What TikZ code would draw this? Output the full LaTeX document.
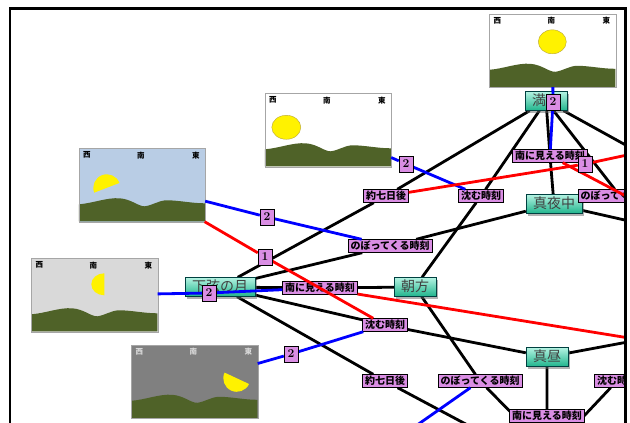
\documentclass[tikz,border=0pt]{standalone}
\usepackage{fontspec}
\newfontfamily\jpfont{Noto Sans CJK JP}
\usetikzlibrary{shadows,backgrounds}

\pgfdeclarelayer{front}
\pgfsetlayers{background,main,front}

\definecolor{hill}{HTML}{4F6228}
\definecolor{moonrim}{HTML}{B8A53A}
\definecolor{linkpink}{HTML}{DA8EE4}
\definecolor{dawnsky}{HTML}{B9CDE5}
\definecolor{greysky}{HTML}{D9D9D9}
\definecolor{nightsky}{HTML}{808080}
\definecolor{mintlight}{HTML}{B4F3E2}
\definecolor{mintdark}{HTML}{1FB48C}

\tikzset{
  concept/.style={draw=teal!50!black, top color=mintlight, bottom color=mintdark,
    text=black!75, font=\jpfont\fontsize{14}{14}\selectfont,
    text height=11pt, text depth=3pt, inner xsep=7pt, inner ysep=2.5pt,
    drop shadow={shadow xshift=2pt, shadow yshift=-2pt, fill=black!60}},
  phrase/.style={draw=black, fill=linkpink, font=\jpfont\bfseries\fontsize{10}{10}\selectfont,
    text height=8pt, text depth=2pt, inner xsep=2.5pt, inner ysep=1.5pt},
  num/.style={draw=black, fill=linkpink, font=\bfseries\fontsize{12}{12}\selectfont,
    inner sep=0pt, minimum width=14pt, minimum height=16pt},
  scene/.style={minimum width=126pt, minimum height=73pt, inner sep=0pt},
  compass/.style={font=\jpfont\bfseries\fontsize{7.5}{7.5}\selectfont, inner sep=0pt},
  conn/.style={line width=2.8pt},
  bluelink/.style={conn, blue},
  redlink/.style={conn, red},
}

% sky, hills, west/south/east marks and the moon
\newcommand{\moonscene}[5]{%
  \node[scene, fill=#3] (#1) at (#2) {};
  \begin{scope}[shift={(#1.north west)}]
    \fill[hill] (0,56) .. controls (14,55) and (28,49) .. (41,50)
      .. controls (53,51) and (59,58) .. (66,58)
      .. controls (74,57) and (80,52) .. (88,52)
      .. controls (100,52) and (113,55) .. (126,55) -- (126,73) -- (0,73) -- cycle;
    \node[compass, text=#4] (#1-w) at (8,7) {西};
    \node[compass, text=#4] (#1-s) at (62,7) {南};
    \node[compass, text=#4] (#1-e) at (117,7) {東};
    #5
  \end{scope}
  \draw[black!35] (#1.north west) rectangle (#1.south east);
}

\begin{document}
\begin{tikzpicture}[x=1pt, y=-1pt]
\useasboundingbox (0,0) rectangle (630,423);
\begin{scope}
\clip (10,8) rectangle (625,430);

\moonscene{full}{552.5,50.5}{white}{black}{\filldraw[fill=yellow, draw=moonrim, thin] (63,28) ellipse [x radius=14, y radius=12];}
\moonscene{west}{328,130}{white}{black}{\filldraw[fill=yellow, draw=moonrim, thin] (21.5,34) ellipse [x radius=14.5, y radius=12];}
\moonscene{dawn}{142,185}{dawnsky}{black}{\fill[yellow] (28,39.5) ++(-21:13.5) arc [start angle=-21, end angle=-201, radius=13.5] -- cycle;}
\moonscene{halfs}{94.5,295}{greysky}{black}{\fill[yellow] (73,26) ++(-90:13 and 11) arc [start angle=-90, end angle=-270, x radius=13, y radius=11] -- cycle;}
\moonscene{night}{194.5,381.5}{nightsky}{white!85!black}{\fill[yellow] (105.5,33.5) ++(25:13.5) arc [start angle=25, end angle=205, radius=13.5] -- cycle;}

\node[concept] (mangetsu) at (546,101) {満月};
\node[concept] (mayonaka) at (554,204) {真夜中};
\node[concept] (kagen) at (220,287) {下弦の月};
\node[concept] (asagata) at (415,287) {朝方};
\node[concept] (mahiru) at (547,357) {真昼};

\node[phrase] (southA) at (550,156) {南に見える時刻};
\node[phrase] (setA) at (481,196) {沈む時刻};
\node[phrase] (weekA) at (386,196) {約七日後};
\node[phrase] (riseA) at (620,196) {のぼってくる時刻};
\node[phrase] (riseB) at (390,246) {のぼってくる時刻};
\node[phrase] (southB) at (320,288) {南に見える時刻};
\node[phrase] (setB) at (385,325) {沈む時刻};
\node[phrase] (weekB) at (385,381) {約七日後};
\node[phrase] (riseC) at (480,381) {のぼってくる時刻};
\node[phrase] (setC) at (617,381) {沈む時刻};
\node[phrase] (southC) at (547,416) {南に見える時刻};

\coordinate (offNE) at (660,164);
\coordinate (offE) at (660,228);
\coordinate (offSE) at (660,336);
\coordinate (offS) at (505,445);
\coordinate (offSW) at (380,451);
\coordinate (hidden) at (550,452);
\coordinate (offR1) at (660,148);
\coordinate (offR2) at (660,214);
\coordinate (offR3) at (660,343);

\begin{scope}[on background layer]
  \clip (10,8) rectangle (625,430);
  \draw[conn] (mangetsu) -- (weekA) -- (kagen);
  \draw[conn] (mangetsu) -- (setA) -- (asagata);
  \draw[conn] (mangetsu) -- (southA) -- (mayonaka);
  \draw[conn] (mangetsu) -- (riseA) (mangetsu) -- (offNE);
  \draw[conn] (mayonaka) -- (riseB) -- (kagen);
  \draw[conn] (mayonaka) -- (offE);
  \draw[conn] (kagen) -- (southB) -- (asagata);
  \draw[conn] (kagen) -- (setB) -- (mahiru);
  \draw[conn] (kagen) -- (weekB) -- (offS);
  \draw[conn] (asagata) -- (riseC) -- (hidden);
  \draw[conn] (mahiru) -- (southC) -- (hidden);
  \draw[conn] (setC) -- (hidden);
  \draw[conn] (mahiru) -- (offSE);
\end{scope}

% number boxes sit over the coloured links
\begin{pgfonlayer}{front}
  \node[num] (twoA) at (553,102) {2};
  \node[num] (oneA) at (585,164) {1};
  \node[num] (twoB) at (406,164) {2};
  \node[num] (twoC) at (267,217) {2};
  \node[num] (oneB) at (265,257) {1};
  \node[num] (twoD) at (209,293) {2};
  \node[num] (twoE) at (291,354) {2};
\end{pgfonlayer}

\draw[bluelink] (full) -- (twoA) -- (southA);
\draw[bluelink] (west) -- (twoB) -- (setA);
\draw[bluelink] (dawn) -- (twoC) -- (riseB);
\draw[bluelink] (halfs) -- (twoD) -- (southB);
\draw[bluelink] (night) -- (twoE) -- (setB);
\draw[bluelink] (riseC) -- (offSW);
\draw[redlink] (dawn) -- (oneB) -- (setB);
\draw[redlink] (weekA) -- (oneA) -- (offR1);
\draw[redlink] (southA) -- (offR2);
\draw[redlink] (southB) -- (offR3);
\end{scope}

\draw[line width=2.5pt] (10,430) -- (10,8.5) -- (625.5,8.5) -- (625.5,430);
\end{tikzpicture}
\end{document}
